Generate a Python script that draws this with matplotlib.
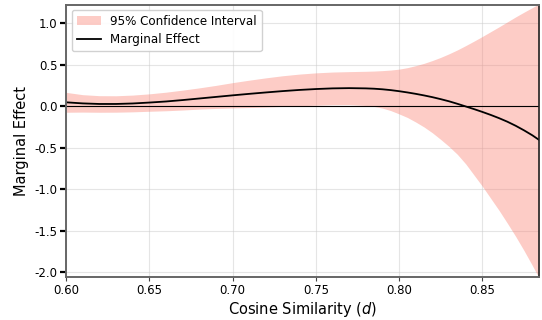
import numpy as np
import matplotlib
matplotlib.use("Agg")
import matplotlib.pyplot as plt
from matplotlib.ticker import FormatStrFormatter

# Cosine similarity grid and estimated marginal effect with 95% CI bounds
similarity = [0.60, 0.61, 0.62, 0.63, 0.64, 0.65, 0.66, 0.67, 0.68, 0.69,
              0.70, 0.71, 0.72, 0.73, 0.74, 0.75, 0.76, 0.77,
              0.780, 0.785, 0.790, 0.795, 0.800, 0.805, 0.810, 0.815, 0.820, 0.825,
              0.830, 0.835, 0.840, 0.845, 0.850, 0.855, 0.860, 0.865, 0.870, 0.875,
              0.880, 0.884]

marginal_effect = [0.048, 0.035, 0.028, 0.028, 0.034, 0.045, 0.058, 0.075, 0.094, 0.113,
                   0.132, 0.150, 0.167, 0.183, 0.197, 0.208, 0.216, 0.219,
                   0.216, 0.212, 0.205, 0.195, 0.182, 0.167, 0.150, 0.131, 0.110, 0.086,
                   0.060, 0.030, -0.002, -0.034, -0.068, -0.104, -0.143, -0.186, -0.235, -0.290,
                   -0.350, -0.405]

ci_upper = [0.168, 0.140, 0.128, 0.127, 0.135, 0.150, 0.170, 0.195, 0.222, 0.252,
            0.285, 0.315, 0.343, 0.368, 0.388, 0.403, 0.413, 0.418,
            0.422, 0.425, 0.430, 0.437, 0.448, 0.466, 0.490, 0.518, 0.552, 0.590,
            0.633, 0.680, 0.732, 0.786, 0.842, 0.900, 0.958, 1.018, 1.078, 1.135,
            1.190, 1.235]

ci_lower = [-0.072, -0.070, -0.072, -0.071, -0.067, -0.060, -0.054, -0.045, -0.034, -0.026,
            -0.020, -0.015, -0.009, -0.002, 0.006, 0.013, 0.019, 0.020,
            0.010, -0.002, -0.022, -0.052, -0.092, -0.135, -0.190, -0.250, -0.320, -0.400,
            -0.485, -0.580, -0.695, -0.830, -0.965, -1.110, -1.255, -1.410, -1.570, -1.740,
            -1.920, -2.070]

x_ticks = [0.60, 0.65, 0.70, 0.75, 0.80, 0.85]
y_ticks = [-2.0, -1.5, -1.0, -0.5, 0.0, 0.5, 1.0]

fig = plt.figure(figsize=(5.42, 3.2), dpi=100)
ax = fig.add_axes([0.1218, 0.134, 0.9945 - 0.1218, 0.984 - 0.134])
ax.set_axisbelow(True)

ax.fill_between(similarity, ci_lower, ci_upper, color="salmon", alpha=0.4,
                linewidth=0, label="95% Confidence Interval")
ax.plot(similarity, marginal_effect, color="black", linewidth=1.3,
        label="Marginal Effect")
ax.axhline(0, color="black", linewidth=0.8)

ax.set_xlim(0.60, 0.884)
ax.set_ylim(-2.06, 1.22)
ax.set_xticks(x_ticks)
ax.set_yticks(y_ticks)
ax.xaxis.set_major_formatter(FormatStrFormatter("%.2f"))
ax.yaxis.set_major_formatter(FormatStrFormatter("%.1f"))

ax.grid(True, color="#cccccc", alpha=0.5, linewidth=0.8)

for side in ["left", "bottom", "top"]:
    ax.spines[side].set_color("#666666")
    ax.spines[side].set_linewidth(1.4)
ax.spines["right"].set_color("#222222")
ax.spines["right"].set_linewidth(1.2)

ax.tick_params(axis="y", length=4, width=1.6, color="black", labelsize=8.5, pad=2)
ax.tick_params(axis="x", length=3, width=0.8, color="#444444", labelsize=8.5, pad=2)

ax.set_xlabel("Cosine Similarity ($d$)", fontsize=10.5, labelpad=2)
ax.set_ylabel("Marginal Effect", fontsize=10.5, labelpad=4)

ax.legend(loc="upper left", fontsize=8.6, frameon=True, framealpha=0.9,
          edgecolor="#cccccc", borderpad=0.4, handlelength=2.0,
          bbox_to_anchor=(0.0, 1.005))

fig.savefig("out.png", dpi=100)
